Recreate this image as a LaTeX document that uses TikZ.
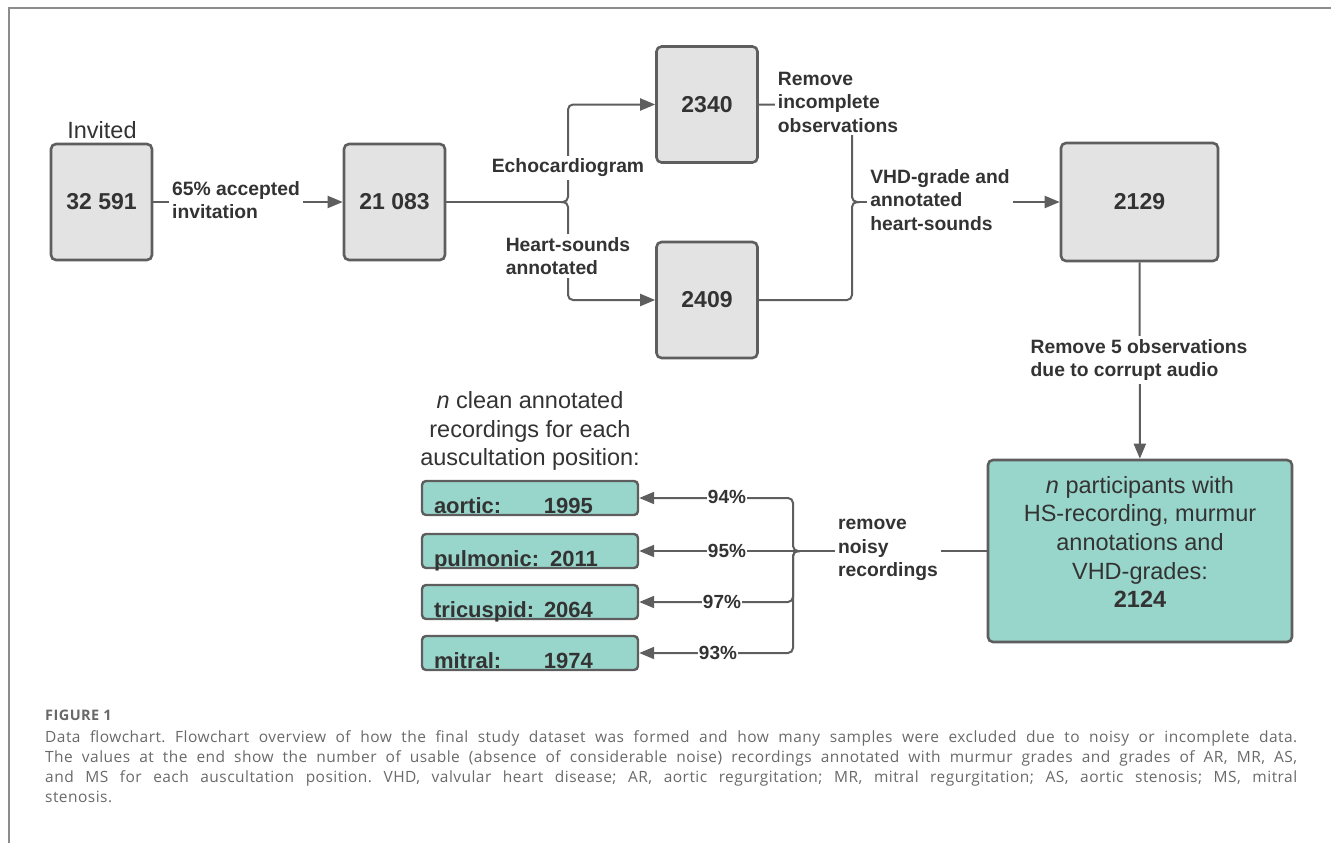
\documentclass[tikz,border=0pt]{standalone}
\usepackage{fontspec}
\setmainfont{Liberation Sans}
\newfontfamily\capfont[LetterSpace=3]{Open Sans}
\usetikzlibrary{arrows.meta,calc}

\definecolor{boxgray}{RGB}{227,227,227}
\definecolor{boxteal}{RGB}{152,214,203}
\definecolor{edgegray}{RGB}{94,94,94}
\definecolor{txtdark}{RGB}{51,51,51}
\definecolor{capgray}{RGB}{105,105,105}
\definecolor{framegray}{RGB}{140,140,140}

\newcommand{\posline}[2]{\makebox[110pt][l]{#1}#2}

\begin{document}
\begin{tikzpicture}[x=1pt,y=-1pt,
    numbox/.style={draw=edgegray,line width=2.6pt,rounded corners=5pt,fill=boxgray,
      minimum width=101pt,minimum height=116pt,inner sep=0pt,
      font=\fontsize{23}{28}\selectfont\bfseries,text=txtdark},
    posbox/.style={draw=edgegray,line width=2.4pt,rounded corners=4pt,fill=boxteal,
      minimum width=216pt,minimum height=34pt,inner xsep=12pt,inner ysep=0pt,
      text width=192pt,align=left,text height=30pt,text depth=0pt,
      font=\fontsize{22}{26}\selectfont\bfseries,text=txtdark},
    lbl/.style={fill=white,inner sep=3pt,align=left,
      font=\fontsize{19.3}{23.5}\selectfont\bfseries,text=txtdark},
    pct/.style={fill=white,inner sep=1pt,font=\fontsize{19}{23}\selectfont\bfseries,text=txtdark},
    plain/.style={align=center,font=\fontsize{23.5}{28.7}\selectfont,text=txtdark},
    conn/.style={draw=edgegray,line width=2pt},
    arr/.style={conn,-{Triangle[length=15pt,width=12pt]}}
  ]
  \useasboundingbox (0,0) rectangle (1331,843);
  % frame
  \draw[framegray,line width=1.2pt] (1331,8) -- (9,8) -- (9,843);

  % boxes
  \node[plain] (invlbl) at (102,130) {Invited};
  \node[numbox] (inv) at (101.5,202) {32 591};
  \node[numbox] (acc) at (394.5,202) {21 083};
  \node[numbox] (e2340) at (707,104.5) {2340};
  \node[numbox] (e2409) at (707,300) {2409};
  \node[numbox,minimum width=157pt,minimum height=118pt] (e2129) at (1139.5,202) {2129};
  \node[numbox,fill=boxteal,minimum width=304pt,minimum height=182pt] (final) at (1140,551) {};
  \node[plain] (finaltxt) at (1140,542) {\textit{n} participants with\\HS-recording, murmur\\annotations and\\VHD-grades:\\\textbf{2124}};

  \node[plain] (hdr) at (530,431) {\textit{n} clean annotated\\recordings for each\\auscultation position:};
  \node[posbox] (aor) at (530,498) {\posline{aortic:}{1995}};
  \node[posbox] (pul) at (530,551) {pulmonic: 2011};
  \node[posbox] (tri) at (530,602) {\posline{tricuspid:}{2064}};
  \node[posbox] (mit) at (530,653) {\posline{mitral:}{1974}};

  \coordinate (split) at (561,202);
  \coordinate (vhd) at (859,202);
  \coordinate (noisy) at (800,551);

  % connectors
  \draw[arr] (inv) -- (acc);
  \draw[conn] (acc) -- (split);
  \draw[arr,rounded corners=5pt] (split) -- ([xshift=7pt]split) |- (e2340);
  \draw[arr,rounded corners=5pt] (split) -- ([xshift=7pt]split) |- (e2409);
  \draw[conn,rounded corners=5pt] (e2340) -| ([xshift=-7pt]vhd) -- (vhd);
  \draw[conn,rounded corners=5pt] (e2409) -| ([xshift=-7pt]vhd) -- (vhd);
  \draw[arr] (vhd) -- (e2129);
  \draw[arr] (e2129) -- (final);
  \draw[conn] (final) -- (noisy);
  \draw[arr,rounded corners=5pt] (noisy) -- ([xshift=-7pt]noisy) |- (aor);
  \draw[arr] (noisy) -- (pul);
  \draw[arr,rounded corners=5pt] (noisy) -- ([xshift=-7pt]noisy) |- (tri);
  \draw[arr,rounded corners=5pt] (noisy) -- ([xshift=-7pt]noisy) |- (mit);

  % labels on the lines
  \node[lbl] (acclbl) at (236,200) {65\% accepted\\invitation};
  \node[lbl] (echolbl) at (568,168) {Echocardiogram};
  \node[lbl] (heartlbl) at (568,256) {Heart-sounds\\annotated};
  \node[lbl] (remlbl) at (838,102) {Remove\\incomplete\\observations};
  \node[lbl] (vhdlbl) at (940,200) {VHD-grade and\\annotated\\heart-sounds};
  \node[lbl] (audlbl) at (1139,360) {Remove 5 observations\\due to corrupt audio};
  \node[lbl] (noisylbl) at (888,550) {remove\\noisy\\recordings};
  \node[pct] (p94) at (727,497) {94\%};
  \node[pct] (p95) at (727,551) {95\%};
  \node[pct] (p97) at (722,602) {97\%};
  \node[pct] (p93) at (718,653) {93\%};

  % caption
  \node[anchor=base west,inner sep=0pt,font=\capfont\fontsize{14.5}{17}\selectfont\bfseries,text=capgray] (figno) at (45,720) {FIGURE 1};
  \node[anchor=north west,inner sep=0pt,text width=1252pt,align=justify,
    font=\capfont\fontsize{15.5}{20}\selectfont\frenchspacing,text=capgray] (captxt) at (45,730) {Data flowchart. Flowchart overview of how the final study dataset was formed and how many samples were excluded due to noisy or incomplete data.\linebreak The values at the end show the number of usable (absence of considerable noise) recordings annotated with murmur grades and grades of AR, MR, AS,\linebreak and MS for each auscultation position. VHD, valvular heart disease; AR, aortic regurgitation; MR, mitral regurgitation; AS, aortic stenosis; MS, mitral\linebreak stenosis.};
\end{tikzpicture}
\end{document}
